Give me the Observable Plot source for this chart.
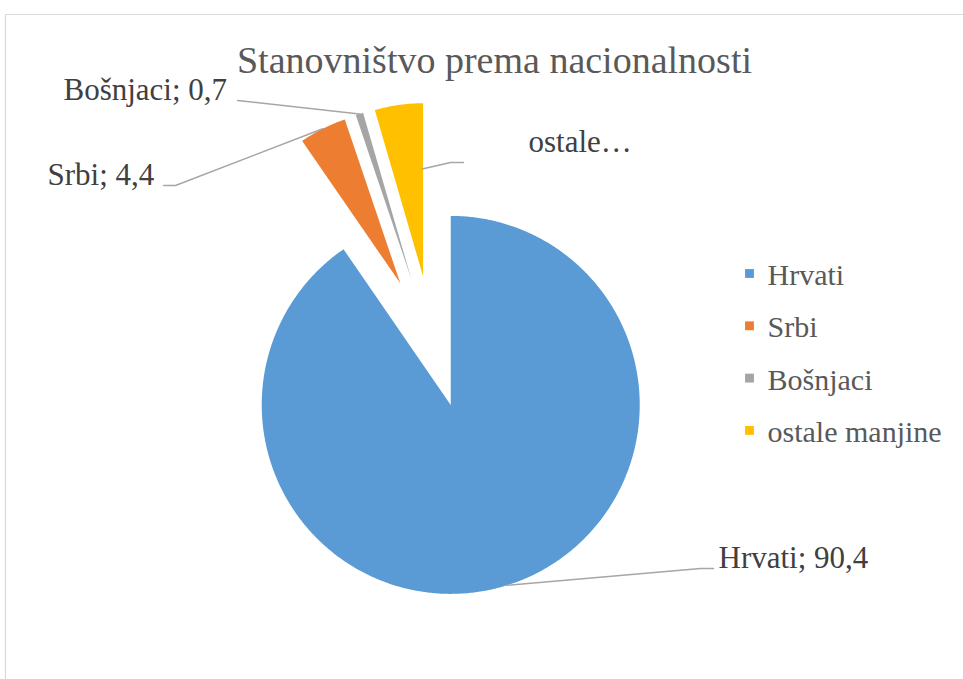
<!DOCTYPE html>
<html>
<head>
<meta charset="utf-8">
<script src="https://cdn.jsdelivr.net/npm/d3@7"></script>
<script src="https://cdn.jsdelivr.net/npm/@observablehq/plot@0.6"></script>
<style>
  html, body { margin: 0; padding: 0; background: #ffffff; }
  #chart svg { display: block; }
</style>
</head>
<body>
<div id="chart"></div>
<script>
// ---- data ----
const categories = ["Hrvati", "Srbi", "Bošnjaci", "ostale manjine"];
const values = [90.4, 4.4, 0.7, 4.5];
const dataLabels = ["Hrvati; 90,4", "Srbi; 4,4", "Bošnjaci; 0,7", "ostale…"];
const titleText = "Stanovništvo prema nacionalnosti";

// ---- style / layout ----
const W = 963, H = 679;
const colors = ["#5B9BD5", "#ED7D31", "#A5A5A5", "#FFC000"];
const center = {x: 433, y: 349};
const explode = [58, 74, 74, 74];
const radius = [189, 173, 173, 173];
const serif = "'Liberation Serif', 'Times New Roman', serif";
// data label positions (start x, middle y) and leader-line elbows
const labelPos = [
  {x: 718, y: 558, elbow: [[700, 568], [713, 568]], anchor: {t: 0.5, r: 1}},
  {x: 47, y: 175, elbow: [[175, 185], [163, 185]], anchor: {t: 0.5, r: 1}},
  {x: 63, y: 90, elbow: [[237, 100]], anchor: {t: 0.5, r: 1}},
  {x: 528, y: 142, elbow: [[450, 162], [463, 162]], anchor: {t: 0.97, r: 0.62}}
];
const legendPos = {x: 749, y0: 273, step: 52.3};

// ---- geometry from the values ----
const arcs = d3.pie().sort(null).value(d => d)(values);
const slicePts = [];
const leaders = [];
arcs.forEach((a, i) => {
  const mid = (a.startAngle + a.endAngle) / 2;
  const tx = center.x + explode[i] * Math.sin(mid);
  const ty = center.y - explode[i] * Math.cos(mid);
  const r = radius[i];
  slicePts.push({cat: categories[i], x: tx, y: ty});
  const n = Math.max(4, Math.ceil((a.endAngle - a.startAngle) / (Math.PI / 360)));
  for (let k = 0; k <= n; k++) {
    const ang = a.startAngle + (a.endAngle - a.startAngle) * k / n;
    slicePts.push({cat: categories[i], x: tx + r * Math.sin(ang), y: ty - r * Math.cos(ang)});
  }
  const lp = labelPos[i];
  const ang = a.startAngle + (a.endAngle - a.startAngle) * lp.anchor.t;
  const ax = tx + r * lp.anchor.r * Math.sin(ang);
  const ay = ty - r * lp.anchor.r * Math.cos(ang);
  leaders.push({cat: categories[i], x: ax, y: ay});
  lp.elbow.forEach(([ex, ey]) => leaders.push({cat: categories[i], x: ex, y: ey}));
});

const labelRows = categories.map((c, i) => ({cat: c, text: dataLabels[i], x: labelPos[i].x, y: labelPos[i].y}));
const legendRows = categories.map((c, i) => ({cat: c, x: legendPos.x, y: legendPos.y0 + i * legendPos.step}));
const frame = [{x: W, y: 14}, {x: 5, y: 14}, {x: 5, y: H}];

const chart = Plot.plot({
  width: W,
  height: H,
  margin: 0,
  style: {background: "#ffffff", fontFamily: serif},
  x: {domain: [0, W], range: [0, W], axis: null},
  y: {domain: [0, H], range: [0, H], axis: null},
  color: {domain: categories, range: colors},
  marks: [
    Plot.line(frame, {x: "x", y: "y", stroke: "#d9d9d9", strokeWidth: 1.2}),
    Plot.line(slicePts, {x: "x", y: "y", z: "cat", fill: "cat", stroke: "none", curve: "linear-closed"}),
    Plot.line(leaders, {x: "x", y: "y", z: "cat", stroke: "#a6a6a6", strokeWidth: 1.5}),
    Plot.text(labelRows, {x: "x", y: "y", text: "text", textAnchor: "start", fontSize: 31, fill: "#404040", fontFamily: serif}),
    Plot.text([titleText], {x: () => 494, y: () => 60, text: d => d, fontSize: 38, fill: "#595959", fontFamily: serif}),
    Plot.dot(legendRows, {x: "x", y: "y", symbol: "square", r: 5, fill: "cat", stroke: "none"}),
    Plot.text(legendRows, {x: d => d.x + 18, y: d => d.y + 2, text: "cat", textAnchor: "start", fontSize: 30, fill: "#595959", fontFamily: serif})
  ]
});
document.getElementById("chart").appendChild(chart);
</script>
</body>
</html>
